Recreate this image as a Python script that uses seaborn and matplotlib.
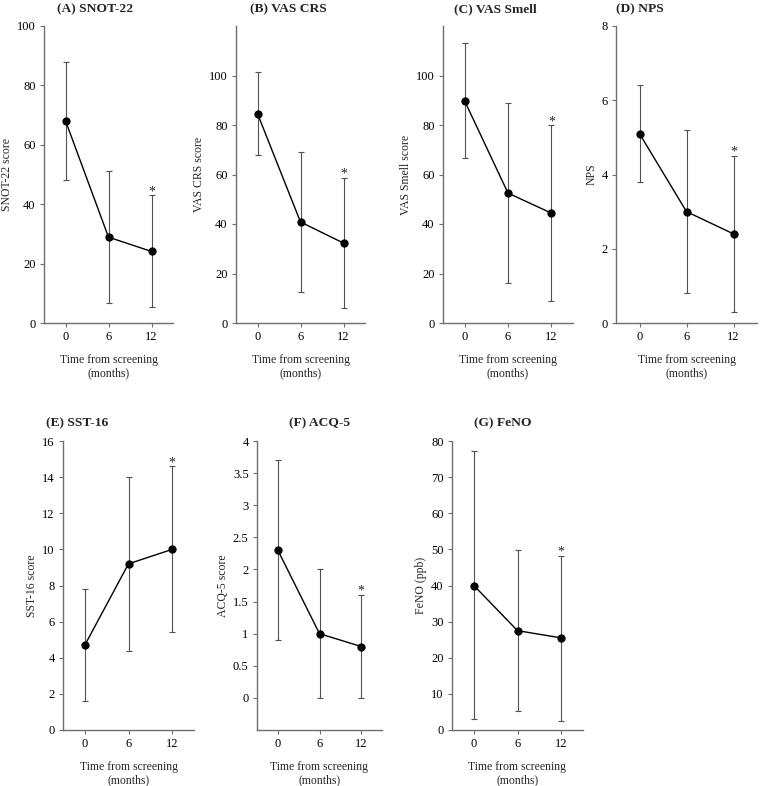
import numpy as np
import pandas as pd
import matplotlib.pyplot as plt
import seaborn as sns

sns.set_theme(style='ticks', context='paper')
plt.rcParams['font.family'] = ['Liberation Serif', 'DejaVu Serif']

# time points (months from screening)
months = ['0', '6', '12']

# mean and error-bar ends
snot22_mean = [68.1, 28.9, 24.1]
snot22_low = [48.2, 6.6, 5.3]
snot22_high = [87.9, 51.1, 43.0]

vascrs_mean = [84.6, 40.8, 32.3]
vascrs_low = [67.9, 12.4, 5.9]
vascrs_high = [101.3, 69.2, 58.6]

vassmell_mean = [89.7, 52.5, 44.4]
vassmell_low = [66.5, 16.2, 8.9]
vassmell_high = [113.0, 88.7, 79.8]

nps_mean = [5.1, 3.0, 2.4]
nps_low = [3.8, 0.8, 0.3]
nps_high = [6.4, 5.2, 4.5]

sst16_mean = [4.7, 9.2, 10.0]
sst16_low = [1.6, 4.4, 5.4]
sst16_high = [7.8, 14.0, 14.6]

acq5_mean = [2.3, 1.0, 0.8]
acq5_low = [0.9, 0.0, 0.0]
acq5_high = [3.7, 2.0, 1.6]

feno_mean = [40.0, 27.5, 25.5]
feno_low = [3.0, 5.2, 2.6]
feno_high = [77.1, 49.7, 48.2]

titles = ['(A) SNOT-22', '(B) VAS CRS', '(C) VAS Smell', '(D) NPS',
          '(E) SST-16', '(F) ACQ-5', '(G) FeNO']
ylabels = ['SNOT-22 score', 'VAS CRS score', 'VAS Smell score', 'NPS',
           'SST-16 score', 'ACQ-5 score', 'FeNO (ppb)']
means = [snot22_mean, vascrs_mean, vassmell_mean, nps_mean, sst16_mean, acq5_mean, feno_mean]
lows = [snot22_low, vascrs_low, vassmell_low, nps_low, sst16_low, acq5_low, feno_low]
highs = [snot22_high, vascrs_high, vassmell_high, nps_high, sst16_high, acq5_high, feno_high]

# axis settings
ylims = [(0, 100), (0, 120), (0, 120), (0, 8), (0, 16), (-0.5, 4), (0, 80)]
yticks = [np.arange(0, 101, 20), np.arange(0, 101, 20), np.arange(0, 101, 20),
          np.arange(0, 9, 2), np.arange(0, 17, 2), np.arange(0, 4.01, 0.5),
          np.arange(0, 81, 10)]

W, H = 760, 786
# axes boxes in pixels: left, right, top, bottom
boxes = [(44, 173, 26, 323), (236, 365, 26, 323), (443, 573, 26, 323), (616, 757, 26, 323),
         (63, 194, 441, 730), (257, 382, 441, 730), (452, 583, 441, 730)]
title_pos = [(95, 9), (288, 9), (495, 9), (640, 9), (77, 423), (320, 423), (503, 423)]

fig = plt.figure(figsize=(W / 100, H / 100), dpi=100)

axis_color = '#6f6f6f'
for i in range(7):
    l, r, t, b = boxes[i]
    ax = fig.add_axes([l / W, 1 - b / H, (r - l) / W, (b - t) / H])
    df = pd.DataFrame({'pos': np.arange(3), 'mean': means[i],
                       'low': lows[i], 'high': highs[i]})
    ax.errorbar(df['pos'], df['mean'],
                yerr=[df['mean'] - df['low'], df['high'] - df['mean']],
                fmt='none', ecolor='#505050', elinewidth=0.8, capsize=2.2, capthick=0.8, zorder=1)
    sns.lineplot(data=df, x='pos', y='mean', ax=ax, color='black', linewidth=1.0,
                 marker='o', markersize=5.2, markeredgecolor='black', zorder=3)
    ax.annotate('*', xy=(2, highs[i][2]), xytext=(0, -2), textcoords='offset points',
                ha='center', va='bottom', fontsize=10)

    ax.set_xlim(-0.5, 2.5)
    ax.set_ylim(*ylims[i])
    ax.set_xticks(range(3))
    ax.set_xticklabels(months)
    ax.set_yticks(yticks[i])
    ax.set_yticklabels(['{:g}'.format(v) for v in yticks[i]])
    ax.tick_params(labelsize=9, length=3, width=0.8, color=axis_color, pad=3, labelcolor='black')
    for s in ['top', 'right']:
        ax.spines[s].set_visible(False)
    for s in ['left', 'bottom']:
        ax.spines[s].set_color(axis_color)
        ax.spines[s].set_linewidth(1)
    ax.set_xlabel('Time from screening\n(months)', fontsize=8.5, labelpad=8, linespacing=1.1)
    ax.set_ylabel(ylabels[i], fontsize=8.5, labelpad=3)
    tx, ty = title_pos[i]
    fig.text(tx / W, 1 - ty / H, titles[i], ha='center', va='center',
             fontsize=9.7, fontweight='bold')

fig.savefig('out.png', dpi=100, facecolor='white')
